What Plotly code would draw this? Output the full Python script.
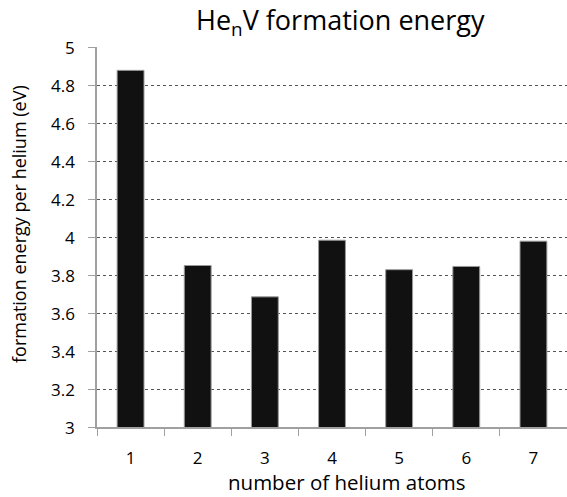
import plotly.graph_objects as go

helium_atoms = ["1", "2", "3", "4", "5", "6", "7"]
formation_energy = [4.877, 3.85, 3.685, 3.983, 3.828, 3.845, 3.978]
y_tick_values = [3, 3.2, 3.4, 3.6, 3.8, 4, 4.2, 4.4, 4.6, 4.8, 5]
y_tick_labels = ["3", "3.2", "3.4", "3.6", "3.8", "4", "4.2", "4.4", "4.6", "4.8", "5"]

chart_title = "He<sub>n</sub>V formation energy"
x_title = "number of helium atoms"
y_title = "formation energy per helium (eV)"

fig = go.Figure()
fig.add_trace(go.Bar(
    x=helium_atoms, y=formation_energy,
    marker=dict(color="#111111", line=dict(color="#9a9a9a", width=1)),
    width=0.4,
))

font_family = "Open Sans, Noto Sans, sans-serif"
fig.update_layout(
    width=567, height=497,
    margin=dict(l=97, r=0, t=47, b=70, autoexpand=False),
    paper_bgcolor="white", plot_bgcolor="white",
    showlegend=False,
    font=dict(family=font_family, color="#000000", size=17),
)
fig.update_xaxes(
    type="category", tickson="boundaries", ticks="outside", ticklen=7,
    tickcolor="#a0a0a0", showline=True, linecolor="#a0a0a0", linewidth=1.5,
    showgrid=False, automargin=False, ticklabelstandoff=15,
    tickfont=dict(size=17),
)
fig.update_yaxes(
    range=[3, 5], tickvals=y_tick_values, ticks="outside", ticklen=7, tickcolor="#a0a0a0",
    showline=True, linecolor="#a0a0a0", linewidth=1.5,
    showgrid=True, gridcolor="#555555", griddash="dot", gridwidth=1,
    zeroline=False, automargin=False, showticklabels=False,
)

W, H = 567, 497
L, T, B = 97, 47, 70
pw, ph = W - L, H - T - B
def px(x):
    return (x - L) / pw
def py(y):
    return (H - B - y) / ph

# y tick labels through the y axis scale
for v, lab in zip(y_tick_values, y_tick_labels):
    fig.add_annotation(text=lab, x=px(77), y=v, xref="paper", yref="y",
                       showarrow=False, xanchor="right", yanchor="middle",
                       font=dict(size=17))

fig.add_annotation(text=chart_title, x=px(340), y=py(22), xref="paper", yref="paper",
                   showarrow=False, xanchor="center", yanchor="middle",
                   font=dict(size=27))
fig.add_annotation(text=x_title, x=px(347), y=py(482), xref="paper", yref="paper",
                   showarrow=False, xanchor="center", yanchor="middle",
                   font=dict(size=20.5))
fig.add_annotation(text=y_title, x=px(19), y=py(224), xref="paper", yref="paper",
                   showarrow=False, xanchor="center", yanchor="middle", textangle=-90,
                   font=dict(size=18))

fig.write_html(
    "out.html",
    config={"displayModeBar": False},
    post_script="document.body.style.margin='0';document.body.style.overflow='hidden';",
)
